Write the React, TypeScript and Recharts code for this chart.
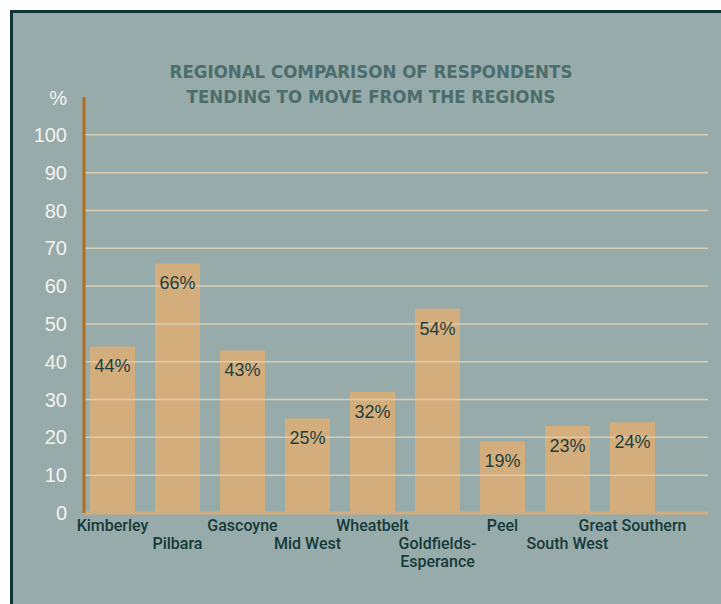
import React from 'react';
import { BarChart, Bar, XAxis, YAxis, ReferenceLine, LabelList } from 'recharts';

const regions = [
  'Kimberley',
  'Pilbara',
  'Gascoyne',
  'Mid West',
  'Wheatbelt',
  'Goldfields-\nEsperance',
  'Peel',
  'South West',
  'Great Southern',
];
const moving = [44, 66, 43, 25, 32, 54, 19, 23, 24];
const yTicks = [0, 10, 20, 30, 40, 50, 60, 70, 80, 90, 100];

const data = regions.map((region, i) => ({ region, value: moving[i] }));

const COND = '"DejaVu Sans Condensed", "DejaVu Sans", sans-serif';
const BAR = '#d4ad7c';
const DARK = '#163a38';

function RegionTick(props: any) {
  const { x, y, payload, index } = props;
  const lines = String(payload.value).split('\n');
  const row = index % 2 === 0 ? 0 : 1;
  return (
    <text
      x={x}
      y={y}
      textAnchor="middle"
      fill={DARK}
      fontFamily="Roboto, sans-serif"
      fontWeight={500}
      fontSize={16}
    >
      {lines.map((line, j) => (
        <tspan key={j} x={x} dy={j === 0 ? 18 + row * 18 : 18}>
          {line}
        </tspan>
      ))}
    </text>
  );
}

function PercentLabel(props: any) {
  const vb = props.viewBox || {};
  return (
    <text
      x={vb.x + vb.width - 17}
      y={vb.y + 8}
      textAnchor="end"
      fill="#f3f2ec"
      fontFamily='"Liberation Sans", sans-serif'
      fontSize={20}
    >
      %
    </text>
  );
}

export default function App() {
  return (
    <div style={{ position: 'relative', width: 721, height: 604, overflow: 'hidden' }}>
      <style>{'body{margin:0;overflow:hidden}'}</style>
      <div
        style={{
          position: 'absolute',
          left: 10,
          top: 10,
          width: 711,
          height: 594,
          background: '#97abaa',
          borderTop: '3px solid #0e3432',
          borderLeft: '3px solid #0e3432',
          boxSizing: 'border-box',
        }}
      />
      <div
        style={{
          position: 'absolute',
          left: 0,
          width: 742,
          top: 59,
          textAlign: 'center',
          color: '#4b6d6b',
          fontFamily: COND,
          fontWeight: 700,
          fontSize: 18.5,
          lineHeight: '25px',
        }}
      >
        REGIONAL COMPARISON OF RESPONDENTS
        <br />
        TENDING TO MOVE FROM THE REGIONS
      </div>
      <div style={{ position: 'absolute', left: 0, top: 0 }}>
        <BarChart
          width={721}
          height={604}
          data={data}
          margin={{ top: 97, right: 13, left: 0, bottom: 21 }}
        >
          {yTicks
            .filter((t) => t > 0)
            .map((t) => (
              <ReferenceLine key={t} y={t} stroke="#dacdb2" strokeWidth={1.5} />
            ))}
          <XAxis
            dataKey="region"
            height={70}
            interval={0}
            tickLine={false}
            tickSize={0}
            tickMargin={0}
            padding={{ left: -4, right: 43 }}
            axisLine={{ stroke: BAR, strokeWidth: 3 }}
            tick={<RegionTick />}
          />
          <YAxis
            width={84}
            domain={[0, 110]}
            ticks={yTicks}
            interval={0}
            tickLine={false}
            tickSize={0}
            tickMargin={17}
            axisLine={{ stroke: '#b36d1f', strokeWidth: 3 }}
            tick={{ fill: '#f3f2ec', fontSize: 20, fontFamily: '"Liberation Sans", sans-serif' }}
            label={<PercentLabel />}
          />
          <Bar dataKey="value" fill={BAR} barSize={45} isAnimationActive={false}>
            <LabelList
              dataKey="value"
              position="insideTop"
              offset={13}
              formatter={(v: any) => `${v}%`}
              fill="#1f3e3c"
              fontSize={18}
              fontFamily='"Liberation Sans", sans-serif'
            />
          </Bar>
        </BarChart>
      </div>
    </div>
  );
}
